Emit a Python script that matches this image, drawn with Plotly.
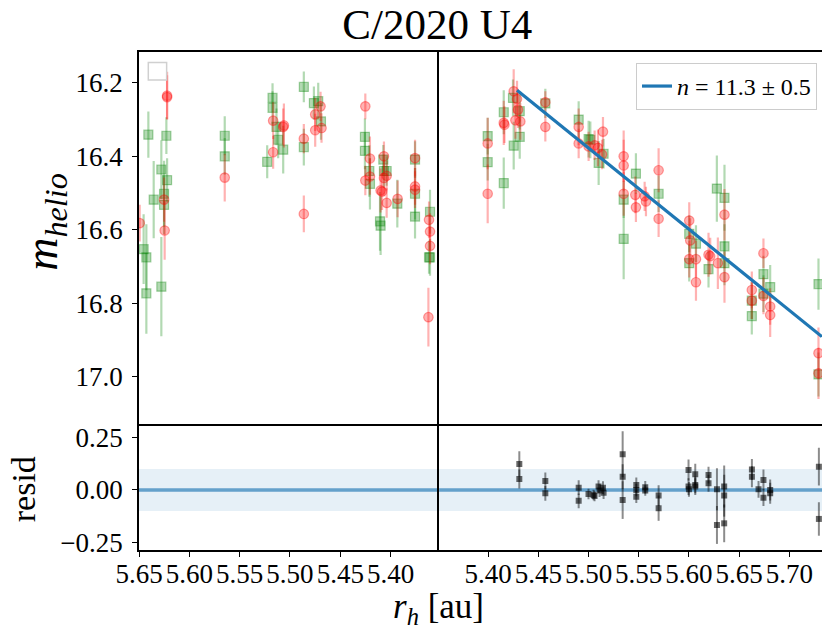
import plotly.graph_objects as go

# ---------------- data ----------------
# left panel (inbound branch), g filter (green squares)
gL_r = [5.6454, 5.6427, 5.6427, 5.6407, 5.6354, 5.6278, 5.6278, 5.6251, 5.6251, 5.6228,
        5.6221, 5.5648, 5.5648, 5.5226, 5.5173, 5.5173, 5.5134, 5.5117, 5.5067, 5.4862,
        5.4862, 5.4762, 5.4719, 5.4692, 5.4255, 5.4255, 5.4211, 5.4205, 5.4072, 5.4066,
        5.4039, 5.4105, 5.4099, 5.3933, 5.3757, 5.3757, 5.3757, 5.3618, 5.3608, 5.3608]
gL_m = [16.653, 16.675, 16.773, 16.341, 16.518, 16.436, 16.755, 16.502, 16.532, 16.344,
        16.465, 16.344, 16.400, 16.415, 16.241, 16.268, 16.320, 16.355, 16.382, 16.211,
        16.375, 16.255, 16.250, 16.305, 16.347, 16.385, 16.440, 16.475, 16.409, 16.440,
        16.440, 16.577, 16.589, 16.529, 16.409, 16.502, 16.564, 16.675, 16.675, 16.551]
gL_e = [0.095, 0.09, 0.11, 0.063, 0.105, 0.08, 0.135, 0.09, 0.08, 0.05,
        0.06, 0.053, 0.05, 0.045, 0.04, 0.045, 0.05, 0.05, 0.065, 0.042,
        0.05, 0.045, 0.05, 0.05, 0.05, 0.05, 0.07, 0.07, 0.04, 0.045,
        0.04, 0.08, 0.08, 0.065, 0.05, 0.07, 0.06, 0.045, 0.05, 0.06]

# left panel, r filter (red circles)
rL_r = [5.6493, 5.6221, 5.6221, 5.6251, 5.6245, 5.5648, 5.5167, 5.5167, 5.5060, 5.5067,
        5.4862, 5.4862, 5.4749, 5.4749, 5.4696, 5.4686, 5.4251, 5.4251, 5.4205, 5.4205,
        5.4099, 5.4085, 5.4066, 5.4066, 5.4039, 5.4039, 5.3930, 5.3757, 5.3757, 5.3757,
        5.3618, 5.3608, 5.3608, 5.3624]
rL_m = [16.582, 16.235, 16.239, 16.518, 16.602, 16.458, 16.303, 16.389, 16.316, 16.320,
        16.352, 16.557, 16.286, 16.329, 16.264, 16.323, 16.264, 16.466, 16.406, 16.455,
        16.493, 16.496, 16.400, 16.459, 16.453, 16.527, 16.516, 16.405, 16.482, 16.491,
        16.573, 16.605, 16.644, 16.838]
rL_e = [0.05, 0.065, 0.06, 0.06, 0.08, 0.065, 0.05, 0.045, 0.06, 0.05,
        0.04, 0.05, 0.045, 0.045, 0.04, 0.04, 0.035, 0.04, 0.06, 0.05,
        0.06, 0.05, 0.04, 0.05, 0.04, 0.04, 0.05, 0.05, 0.05, 0.05,
        0.05, 0.05, 0.05, 0.08]

# right panel (outbound branch), g filter
gR_r = [5.3996, 5.3996, 5.4156, 5.4156, 5.4248, 5.4255, 5.4315, 5.4315, 5.4570, 5.4902,
        5.5001, 5.5018, 5.5101, 5.5150, 5.5350, 5.5350, 5.5472, 5.5698, 5.6003, 5.6070,
        5.6003, 5.6278, 5.6354, 5.6354, 5.6354, 5.6195, 5.6626, 5.6626, 5.6742, 5.6809,
        5.6742, 5.7290, 5.7290]
gR_m = [16.345, 16.416, 16.280, 16.473, 16.241, 16.371, 16.277, 16.347, 16.256, 16.300,
        16.353, 16.355, 16.418, 16.393, 16.518, 16.625, 16.447, 16.502, 16.611, 16.638,
        16.691, 16.488, 16.513, 16.645, 16.691, 16.707, 16.835, 16.793, 16.721, 16.756,
        16.774, 16.748, 16.994]
gR_e = [0.05, 0.05, 0.06, 0.07, 0.05, 0.065, 0.05, 0.06, 0.04, 0.05,
        0.05, 0.05, 0.06, 0.04, 0.05, 0.11, 0.055, 0.05, 0.05, 0.05,
        0.05, 0.09, 0.09, 0.06, 0.06, 0.05, 0.05, 0.05, 0.05, 0.06,
        0.05, 0.07, 0.06]

# right panel, r filter
rR_r = [5.3996, 5.3996, 5.4156, 5.4163, 5.4255, 5.4288, 5.4298, 5.4272, 5.4321, 5.4570,
        5.4570, 5.4902, 5.4902, 5.5001, 5.5061, 5.5094, 5.5144, 5.5134, 5.5350, 5.5350,
        5.5350, 5.5466, 5.5472, 5.5559, 5.5572, 5.5698, 5.5698, 5.6003, 5.6013, 5.6003,
        5.6070, 5.6070, 5.6195, 5.6212, 5.6288, 5.6354, 5.6354, 5.6626, 5.6626, 5.6742,
        5.6742, 5.6809, 5.6809, 5.7290, 5.7290]
rR_m = [16.365, 16.502, 16.309, 16.314, 16.223, 16.244, 16.273, 16.302, 16.305, 16.253,
        16.320, 16.320, 16.365, 16.373, 16.370, 16.377, 16.333, 16.395, 16.400, 16.425,
        16.502, 16.505, 16.539, 16.509, 16.523, 16.438, 16.570, 16.575, 16.629, 16.680,
        16.680, 16.743, 16.668, 16.672, 16.691, 16.559, 16.729, 16.764, 16.793, 16.664,
        16.780, 16.809, 16.832, 16.936, 16.991]
rR_e = [0.07, 0.08, 0.06, 0.05, 0.06, 0.05, 0.05, 0.05, 0.05, 0.03,
        0.04, 0.05, 0.04, 0.04, 0.04, 0.05, 0.04, 0.04, 0.07, 0.07,
        0.06, 0.05, 0.04, 0.04, 0.04, 0.06, 0.05, 0.05, 0.06, 0.05,
        0.05, 0.05, 0.06, 0.05, 0.07, 0.07, 0.07, 0.05, 0.05, 0.04,
        0.05, 0.05, 0.06, 0.07, 0.07]

# fitted power-law line (n = 11.3 +/- 0.5), read at its ends
fit_r = [5.4288, 5.7323]
fit_m = [16.220, 16.891]
fit_label = "<i>n</i> = 11.3 ± 0.5"

# residuals of the fit (right panel only)
res_r = [5.4311, 5.4311, 5.4570, 5.4570, 5.4902, 5.4902, 5.5000, 5.5050, 5.5060, 5.5100,
         5.5110, 5.5144, 5.5150, 5.5340, 5.5340, 5.5340, 5.5476, 5.5476, 5.5476, 5.5565,
         5.5565, 5.5698, 5.5698, 5.5996, 5.5996, 5.6000, 5.6063, 5.6063, 5.6063, 5.6195,
         5.6195, 5.6279, 5.6279, 5.6351, 5.6351, 5.6351, 5.6627, 5.6627, 5.6693, 5.6742,
         5.6742, 5.6809, 5.6809, 5.7294, 5.7294]
res_v = [0.124, 0.052, 0.043, -0.016, 0.011, -0.052, -0.019, -0.024, -0.029, 0.016,
         -0.003, 0.011, -0.013, 0.170, 0.063, -0.048, 0.024, 0.000, -0.032, 0.013,
         -0.003, -0.027, -0.087, 0.095, 0.016, 0.003, 0.075, 0.024, 0.016, 0.071,
         0.032, 0.003, -0.167, 0.016, -0.027, -0.159, 0.098, 0.063, 0.003, 0.048,
         -0.037, 0.000, -0.016, 0.111, -0.138]
res_e = [0.06, 0.045, 0.04, 0.035, 0.035, 0.035, 0.025, 0.025, 0.025, 0.03,
         0.03, 0.03, 0.03, 0.11, 0.06, 0.09, 0.035, 0.03, 0.03, 0.03,
         0.025, 0.05, 0.06, 0.05, 0.04, 0.035, 0.05, 0.04, 0.04, 0.04,
         0.04, 0.1, 0.09, 0.1, 0.1, 0.09, 0.05, 0.05, 0.04, 0.05,
         0.04, 0.05, 0.05, 0.09, 0.08]

left_ticks = [5.65, 5.60, 5.55, 5.50, 5.45, 5.40]
right_ticks = [5.40, 5.45, 5.50, 5.55, 5.60, 5.65, 5.70]
mag_ticks = [16.2, 16.4, 16.6, 16.8, 17.0]
res_ticks = [-0.25, 0.0, 0.25]
res_ticktext = ["−0.25", "0.00", "0.25"]
band_half = 0.1

# ---------------- styling ----------------
FONT = "Liberation Serif"
GREEN = "rgba(0,128,0,0.3)"
GREEN_EDGE = "rgba(0,128,0,0.35)"
RED = "rgba(255,0,0,0.3)"
RED_EDGE = "rgba(255,0,0,0.35)"
BLUE = "#1f77b4"

fig = go.Figure()


def pts(x, y, e, xa, ya, color, edge, symbol, size):
    fig.add_trace(go.Scatter(
        x=x, y=y, mode="markers", xaxis=xa, yaxis=ya, showlegend=False,
        marker=dict(symbol=symbol, size=size, color=color, line=dict(color=edge, width=1.2)),
        error_y=dict(type="data", array=e, visible=True, color=color, thickness=2.2, width=0),
    ))


pts(gL_r, gL_m, gL_e, "x", "y", GREEN, GREEN_EDGE, "square", 9)
pts(rL_r, rL_m, rL_e, "x", "y", RED, RED_EDGE, "circle", 9.5)
pts(gR_r, gR_m, gR_e, "x2", "y2", GREEN, GREEN_EDGE, "square", 9)
pts(rR_r, rR_m, rR_e, "x2", "y2", RED, RED_EDGE, "circle", 9.5)

fig.add_trace(go.Scatter(x=fit_r, y=fit_m, mode="lines", xaxis="x2", yaxis="y2",
                         line=dict(color=BLUE, width=3.2), name=fit_label, showlegend=True))

fig.add_trace(go.Scatter(
    x=res_r, y=res_v, mode="markers", xaxis="x4", yaxis="y4", showlegend=False,
    marker=dict(symbol="square", size=6, color="rgba(0,0,0,0.6)"),
    error_y=dict(type="data", array=res_e, visible=True, color="rgba(0,0,0,0.45)",
                 thickness=2, width=0),
))

shapes = []
for xr, yr in (("x3", "y3"), ("x4", "y4")):
    shapes.append(dict(type="rect", xref=f"{xr} domain", yref=yr, x0=0, x1=1,
                       y0=-band_half, y1=band_half, fillcolor="rgba(31,119,180,0.11)",
                       line=dict(width=0), layer="below"))
    shapes.append(dict(type="line", xref=f"{xr} domain", yref=yr, x0=0, x1=1, y0=0, y1=0,
                       line=dict(color="rgba(31,119,180,0.65)", width=3.4), layer="below"))
# empty legend frame in the top-left panel
shapes.append(dict(type="rect", xref="x domain", yref="y domain", x0=0.031, x1=0.092,
                   y0=0.925, y1=0.972, line=dict(color="#d0d0d0", width=1.5),
                   fillcolor="rgba(255,255,255,0.8)"))

split = 0.4398
top_lo = 0.25
tickfont = dict(family=FONT, size=27, color="black")
axline = dict(showline=True, linecolor="black", linewidth=1.5, showgrid=False, zeroline=False)
tickstyle = dict(ticks="outside", ticklen=5, tickwidth=1.3, tickcolor="black", tickfont=tickfont)

left_range = [5.65, 5.3515]
right_range = [5.3515, 5.7325]
mag_range = [17.133, 16.116]
res_range = [-0.286, 0.307]

fig.update_layout(
    width=822, height=632,
    margin=dict(l=139, r=0, t=52, b=82),
    paper_bgcolor="white", plot_bgcolor="white",
    font=dict(family=FONT, color="black"),
    title=dict(text="C/2020 U4", x=0.532, xanchor="center", xref="container",
               y=0.962, yanchor="middle", yref="container",
               font=dict(family=FONT, size=43, color="black")),
    # top row: lines at the top only (bottom edge is drawn by the residual axes)
    xaxis=dict(domain=[0, split], anchor="y", range=left_range, side="top", mirror=False,
               showticklabels=False, ticks="", **axline),
    yaxis=dict(domain=[top_lo, 1], anchor="x", range=mag_range, mirror=False,
               tickvals=mag_ticks, ticktext=[f"{v:.1f}" for v in mag_ticks],
               ticklabelstandoff=4, **tickstyle, **axline),
    xaxis2=dict(domain=[split, 1], anchor="y2", range=right_range, side="top", mirror=False,
                showticklabels=False, ticks="", **axline),
    yaxis2=dict(domain=[top_lo, 1], anchor="x2", range=mag_range, mirror=False,
                showticklabels=False, ticks="", **axline),
    xaxis3=dict(domain=[0, split], anchor="y3", range=left_range, mirror=True,
                tickvals=left_ticks, ticktext=[f"{v:.2f}" for v in left_ticks],
                tickangle=0, ticklabelstandoff=-6, **tickstyle, **axline),
    yaxis3=dict(domain=[0, top_lo], anchor="x3", range=res_range, mirror=False,
                tickvals=res_ticks, ticktext=res_ticktext, ticklabelstandoff=4,
                **tickstyle, **axline),
    xaxis4=dict(domain=[split, 1], anchor="y4", range=right_range, mirror=True,
                tickvals=right_ticks, ticktext=[f"{v:.2f}" for v in right_ticks],
                tickangle=0, ticklabelstandoff=-6, **tickstyle, **axline),
    yaxis4=dict(domain=[0, top_lo], anchor="x4", range=res_range, mirror=False,
                showticklabels=False, ticks="", **axline),
    legend=dict(x=0.9927, xanchor="right", y=0.978, yanchor="top",
                bgcolor="rgba(255,255,255,0.8)", bordercolor="#cccccc", borderwidth=1,
                font=dict(family=FONT, size=24, color="black")),
    shapes=shapes,
    annotations=[
        dict(text="<i>m</i><sub><i>helio</i></sub>", xref="paper", yref="paper",
             x=-0.1376, y=0.659, xanchor="center", yanchor="middle", textangle=-90,
             showarrow=False, font=dict(family=FONT, size=46, color="black")),
        dict(text="resid", xref="paper", yref="paper", x=-0.168, y=0.1225,
             xanchor="center", yanchor="middle", textangle=-90, showarrow=False,
             font=dict(family=FONT, size=34, color="black")),
        dict(text="<i>r</i><sub><i>h</i></sub> [au]", xref="paper", yref="paper",
             x=0.4378, y=-0.118, xanchor="center", yanchor="middle", showarrow=False,
             font=dict(family=FONT, size=35, color="black")),
    ],
)

fig.write_html("out.html")
